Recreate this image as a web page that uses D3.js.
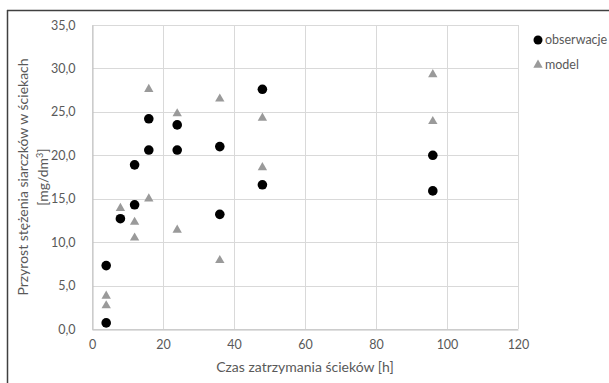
<!DOCTYPE html>
<html>
<head>
<meta charset="UTF-8">
<title>Przyrost stężenia siarczków</title>
<script src="https://cdn.jsdelivr.net/npm/d3@7/dist/d3.min.js"></script>
<style>
  body { margin: 0; background: #fff; }
  text { font-family: Lato, "Open Sans", sans-serif; fill: #595959; }
  .grid line { stroke: #d9d9d9; stroke-width: 1; }
</style>
</head>
<body>
<div id="graphe"></div>
<script>
// dane
var obsX = [4, 4, 8, 12, 12, 16, 16, 24, 24, 36, 36, 48, 48, 96, 96];
var obsY = [0.7, 7.3, 12.7, 18.9, 14.3, 24.2, 20.6, 23.5, 20.6, 21.0, 13.2, 27.6, 16.6, 20.0, 15.9];
var modX = [4, 4, 8, 12, 12, 16, 16, 24, 24, 36, 36, 48, 48, 96, 96];
var modY = [3.8, 2.7, 13.9, 12.3, 10.5, 27.6, 15.0, 24.8, 11.4, 26.5, 7.9, 24.3, 18.6, 29.3, 23.9];
var xTicks = [0, 20, 40, 60, 80, 100, 120];
var yTicks = [0, 5, 10, 15, 20, 25, 30, 35];
var seriesNames = ["obserwacje", "model"];

var width = 609, height = 383;
var margin = {top: 25, right: 91, bottom: 54, left: 92};

var svg = d3.select("#graphe").append("svg")
  .attr("width", width)
  .attr("height", height);

// ramka (lewa i górna krawędź)
svg.append("line").attr("x1", 7.5).attr("x2", 7.5).attr("y1", 10).attr("y2", height)
  .attr("stroke", "#404040").attr("stroke-width", 1.5);
svg.append("line").attr("x1", 7).attr("x2", width).attr("y1", 10.5).attr("y2", 10.5)
  .attr("stroke", "#404040").attr("stroke-width", 1.5);

var x = d3.scaleLinear().domain([0, 120]).range([margin.left, width - margin.right]);
var y = d3.scaleLinear().domain([0, 35]).range([height - margin.bottom, margin.top]);

var fmt = function(d) { return d3.format(".1f")(d).replace(".", ","); };

// siatka
var grid = svg.append("g").attr("class", "grid");
grid.selectAll(".gy").data(yTicks).enter().append("line")
  .attr("x1", x(0)).attr("x2", x(120))
  .attr("y1", function(d) { return Math.round(y(d)) + 0.5; })
  .attr("y2", function(d) { return Math.round(y(d)) + 0.5; });
grid.selectAll(".gx").data(xTicks).enter().append("line")
  .attr("y1", y(0)).attr("y2", y(35))
  .attr("x1", function(d) { return Math.round(x(d)) + 0.5; })
  .attr("x2", function(d) { return Math.round(x(d)) + 0.5; });

// osie
var xAxis = svg.append("g")
  .attr("transform", "translate(0," + (Math.round(y(0)) + 0.5) + ")")
  .call(d3.axisBottom(x).tickValues(xTicks).tickSize(0).tickPadding(11));
var yAxis = svg.append("g")
  .attr("transform", "translate(" + (Math.round(x(0)) + 0.5) + ",0)")
  .call(d3.axisLeft(y).tickValues(yTicks).tickFormat(fmt).tickSize(0).tickPadding(17));
[xAxis, yAxis].forEach(function(a) {
  a.select(".domain").attr("stroke", "#bfbfbf");
  a.selectAll("text").attr("font-size", 12.5).style("font-family", "Lato, sans-serif").attr("fill", "#595959");
});

// punkty - model
var tri = d3.symbol().type(d3.symbolTriangle).size(38);
svg.append("g").selectAll("path").data(modX).enter().append("path")
  .attr("d", tri)
  .attr("transform", function(d, i) { return "translate(" + x(d) + "," + y(modY[i]) + ")"; })
  .attr("fill", "#9a9a9a");

// punkty - obserwacje
svg.append("g").selectAll("circle").data(obsX).enter().append("circle")
  .attr("cx", function(d) { return x(d); })
  .attr("cy", function(d, i) { return y(obsY[i]); })
  .attr("r", 4.8)
  .attr("fill", "#000");

// legenda
var leg = svg.append("g").attr("transform", "translate(538,40)");
leg.append("circle").attr("cx", 0).attr("cy", 0).attr("r", 4.5).attr("fill", "#000");
leg.append("path").attr("d", tri).attr("transform", "translate(0,25)").attr("fill", "#9a9a9a");
leg.selectAll("text").data(seriesNames).enter().append("text")
  .attr("x", 7).attr("y", function(d, i) { return i * 25; })
  .attr("dy", "0.35em")
  .attr("font-size", 12.5)
  .text(function(d) { return d; });

// tytuły osi
svg.append("text")
  .attr("x", x(60)).attr("y", 372)
  .attr("text-anchor", "middle")
  .attr("font-size", 14)
  .text("Czas zatrzymania ścieków [h]");

var yt = svg.append("text")
  .attr("transform", "translate(28,177) rotate(-90)")
  .attr("text-anchor", "middle")
  .attr("font-size", 14);
yt.append("tspan").attr("x", 0).attr("dy", 0).text("Przyrost stężenia siarczków w ściekach");
var t2 = yt.append("tspan").attr("x", 0).attr("dy", 20).text("[mg/dm");
t2.append("tspan").attr("baseline-shift", "super").attr("font-size", 9).text("3");
yt.append("tspan").text("]");
</script>
</body>
</html>
